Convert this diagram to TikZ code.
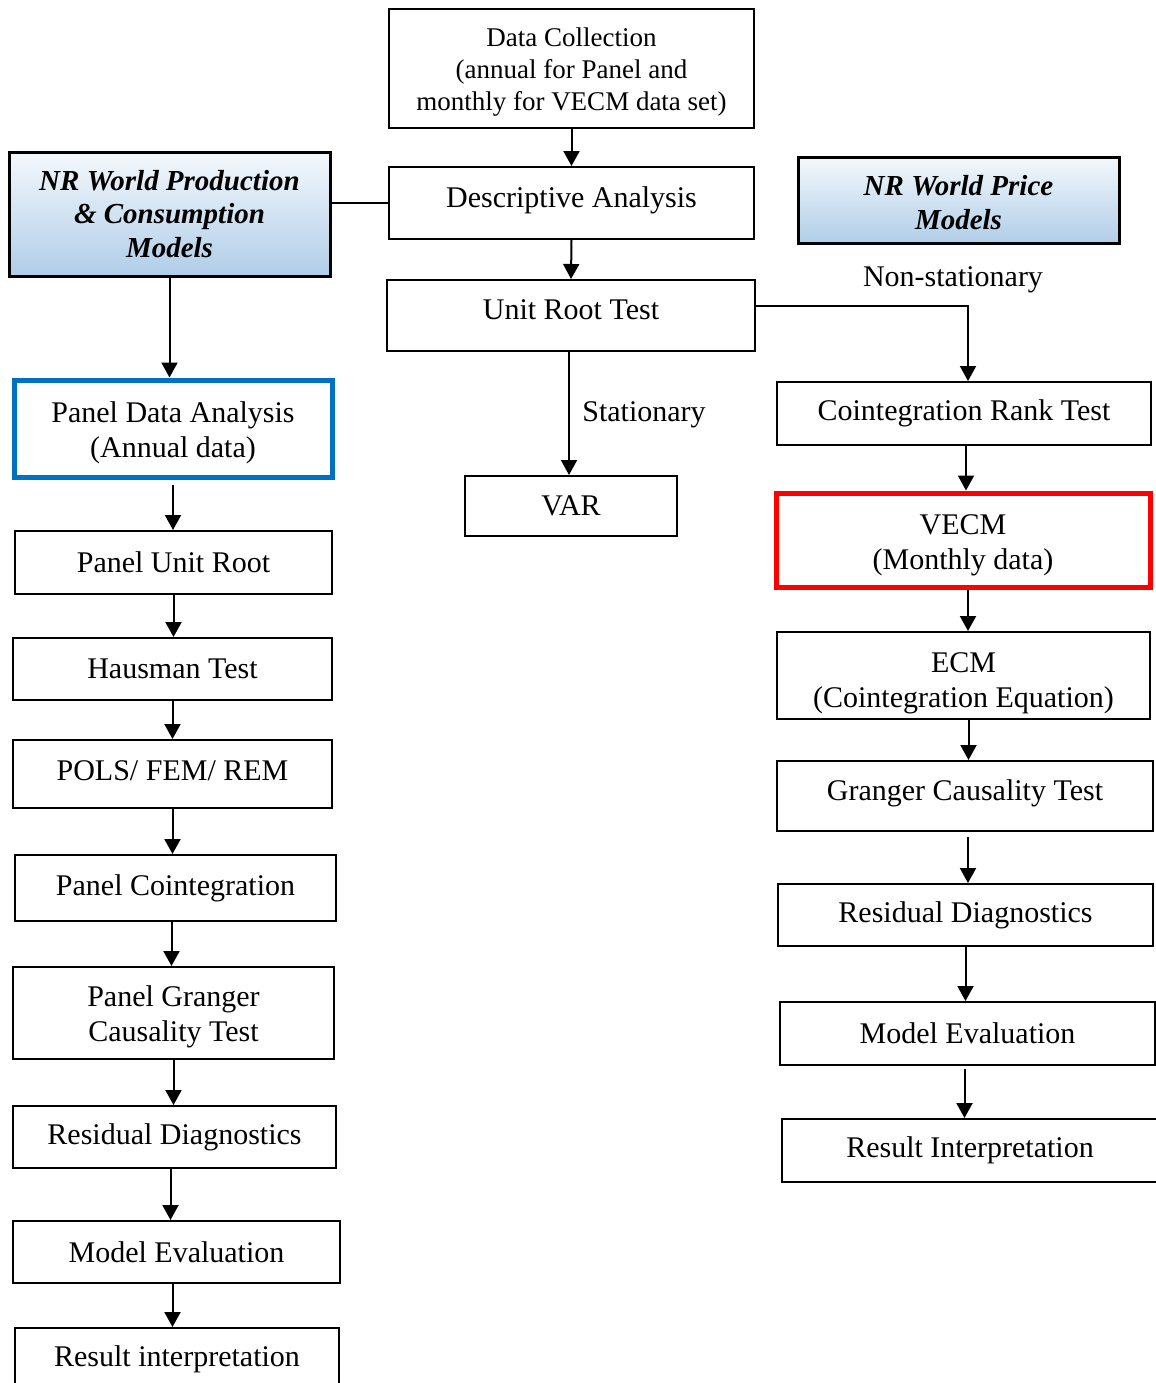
\documentclass[tikz,border=0pt]{standalone}
\usepackage{fontspec}
\setmainfont{Liberation Serif}
\usetikzlibrary{arrows.meta}
\definecolor{hdrtop}{RGB}{244,248,252}
\definecolor{hdrbot}{RGB}{176,205,232}
\definecolor{panelblue}{RGB}{0,112,192}
\definecolor{vecmred}{RGB}{255,0,0}
\tikzset{
  box/.style={draw, line width=1pt, align=center, inner sep=2pt,
    font=\fontsize{15}{17.5}\selectfont},
  hdr/.style={box, line width=1.5pt, shading=axis, top color=hdrtop,
    bottom color=hdrbot, font=\fontsize{14.5}{16.8}\selectfont\bfseries\itshape},
  lbl/.style={font=\fontsize{15}{17.5}\selectfont, inner sep=0pt},
  arr/.style={draw, line width=1pt, -{Triangle[length=7.5pt,width=8pt]}},
  ln/.style={draw, line width=1pt}
}
\begin{document}
\begin{tikzpicture}[x=0.5pt,y=-0.5pt]
\clip (0,0) rectangle (1156,1383);
\useasboundingbox (0,0) rectangle (1156,1383);
\fill[white] (0,0) rectangle (1156,1383);

% centre column
\node[box, minimum width=182.5pt, minimum height=59.5pt, font=\fontsize{13.5}{16}\selectfont] (dc) at (571.5,68.5)
  {\rule{0pt}{13.3pt}Data Collection\\(annual for Panel and\\monthly for VECM data set)};
\node[box, minimum width=182.5pt, minimum height=36pt] (da) at (571.5,203)
  {Descriptive Analysis\rule[-6.3pt]{0pt}{1pt}};
\node[box, minimum width=184pt, minimum height=35.5pt] (urt) at (571,315.5)
  {Unit Root Test\rule[-6pt]{0pt}{1pt}};
\node[box, minimum width=106pt, minimum height=30pt] (var) at (571,506) {VAR};
\node[lbl] (stat) at (644,415) {Stationary};

% model headers
\node[hdr, minimum width=160.5pt, minimum height=62pt] (hl) at (169.5,214)
  {NR World Production\\\& Consumption\\Models};
\node[hdr, minimum width=160.5pt, minimum height=43pt] (hr) at (958.5,200)
  {\rule{0pt}{12.5pt}NR World Price\\Models};
\node[lbl] (nonstat) at (953,280) {Non-stationary};

% panel branch
\node[box, minimum width=159pt, minimum height=48.5pt, draw=panelblue, line width=2.5pt] (pda) at (173,428.5)
  {\rule{0pt}{14.5pt}Panel Data Analysis\\(Annual data)};
\node[box, minimum width=158.5pt, minimum height=31.5pt] (pur) at (173.5,562.5) {Panel Unit Root};
\node[box, minimum width=159.5pt, minimum height=31pt] (haus) at (172.5,669) {Hausman Test};
\node[box, minimum width=159.5pt, minimum height=34pt] (pols) at (172.5,774)
  {POLS/ FEM/ REM\rule[-3.5pt]{0pt}{1pt}};
\node[box, minimum width=160.5pt, minimum height=33pt] (pcoint) at (175.5,888) {Panel Cointegration};
\node[box, minimum width=160.5pt, minimum height=46pt] (pgc) at (173.5,1013)
  {\rule{0pt}{14.5pt}Panel Granger\\Causality Test};
\node[box, minimum width=161.5pt, minimum height=31pt] (lres) at (174.5,1137) {Residual Diagnostics};
\node[box, minimum width=163.5pt, minimum height=31pt] (lme) at (176.5,1252) {Model Evaluation};
\node[box, minimum width=162pt, minimum height=31pt] (lri) at (177,1359) {Result interpretation};

% time series branch
\node[box, minimum width=187pt, minimum height=31.5pt] (crt) at (964,413.5) {Cointegration Rank Test};
\node[box, minimum width=187pt, minimum height=47pt, draw=vecmred, line width=2.5pt] (vecm) at (963,540)
  {\rule{0pt}{15.5pt}VECM\\(Monthly data)};
\node[box, minimum width=186.5pt, minimum height=43.5pt] (ecm) at (963.5,675.5)
  {\rule{0pt}{17.3pt}ECM\\(Cointegration Equation)};
\node[box, minimum width=188pt, minimum height=35pt] (gct) at (965,796)
  {Granger Causality Test\rule[-6.3pt]{0pt}{1pt}};
\node[box, minimum width=187.5pt, minimum height=31pt] (rres) at (965.5,915) {Residual Diagnostics};
\node[box, minimum width=187.5pt, minimum height=31.5pt] (rme) at (967.5,1033.5) {Model Evaluation};
\node[box, minimum width=188pt, minimum height=31.5pt] (rri) at (970,1150.5) {Result Interpretation};

% connectors
\path[arr] (dc.south) -- (da.north);
\path[arr] (da.south) -- (urt.north);
\path[ln] (da.west) -- (da.west -| hl.east);
\path[arr] (hl.south) -- (hl.south |- pda.north);
\path[arr] ([xshift=-1pt]urt.south) -- ([xshift=-1pt]var.north);
\path[arr] ([yshift=5pt]urt.east) -| ([xshift=2pt]crt.north);

\path[arr] ([yshift=-2.5pt]pda.south) -- (pda.south |- pur.north);
\path[arr] (pur.south) -- (pur.south |- haus.north);
\path[arr] (haus.south) -- (haus.south |- pols.north);
\path[arr] (pols.south) -- (pols.south |- pcoint.north);
\path[arr] ([xshift=-2pt]pcoint.south) -- ([xshift=-2pt]pcoint.south |- pgc.north);
\path[arr] (pgc.south) -- (pgc.south |- lres.north);
\path[arr] ([xshift=-2pt]lres.south) -- ([xshift=-2pt]lres.south |- lme.north);
\path[arr] ([xshift=-2pt]lme.south) -- ([xshift=-2pt]lme.south |- lri.north);

\path[arr] ([xshift=1pt]crt.south) -- ([xshift=1pt]crt.south |- vecm.north);
\path[arr] ([xshift=2.5pt]vecm.south) -- ([xshift=2.5pt]vecm.south |- ecm.north);
\path[arr] ([xshift=2.5pt,yshift=1pt]ecm.south) -- ([xshift=2.5pt]ecm.south |- gct.north);
\path[arr] ([xshift=1.5pt,yshift=-2.5pt]gct.south) -- ([xshift=1.5pt]gct.south |- rres.north);
\path[arr] (rres.south) -- (rres.south |- rme.north);
\path[arr] ([xshift=-1.5pt,yshift=-1.5pt]rme.south) -- ([xshift=-1.5pt]rme.south |- rri.north);
\end{tikzpicture}
\end{document}
